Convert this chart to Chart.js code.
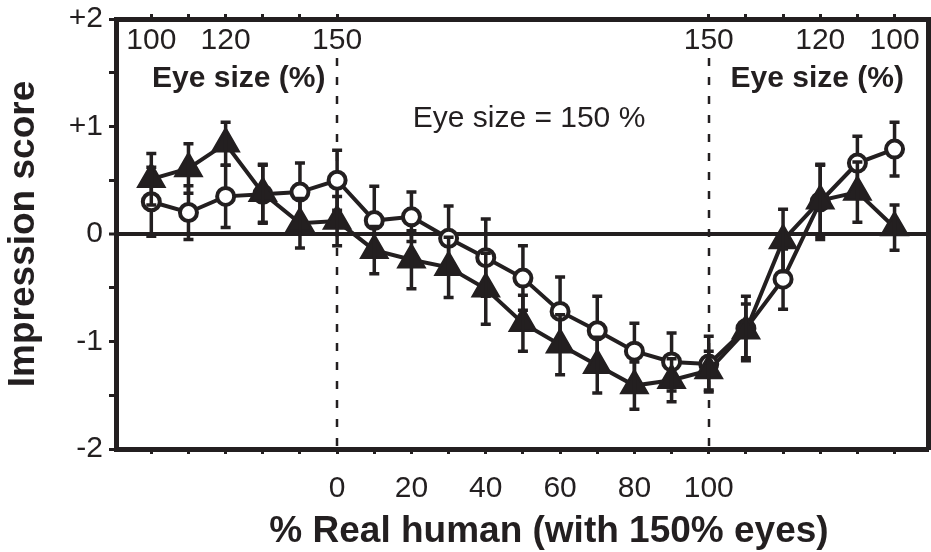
<!DOCTYPE html>
<html>
<head>
<meta charset="utf-8">
<script src="https://cdn.jsdelivr.net/npm/chart.js@4.4.0/dist/chart.umd.min.js"></script>
<style>
  html, body { margin: 0; padding: 0; background: #fff; }
  canvas { display: block; }
</style>
</head>
<body>
<canvas id="myChart" width="931" height="552"></canvas>
<script>
// % real human (bottom axis); negative side = eye size sweep on the doll face, >100 = eye size sweep on the real face
const realHuman = [-50, -40, -30, -20, -10, 0, 10, 20, 30, 40, 50, 60, 70, 80, 90, 100, 110, 120, 130, 140, 150];

// filled triangles
const triScore = [0.51, 0.61, 0.84, 0.38, 0.10, 0.12, -0.15, -0.24, -0.31, -0.51, -0.83, -1.03, -1.22, -1.41, -1.36, -1.27, -0.90, -0.06, 0.31, 0.39, 0.06];
const triErr   = [0.24, 0.23, 0.20, 0.27, 0.23, 0.23, 0.22, 0.27, 0.28, 0.33, 0.26, 0.28, 0.26, 0.22, 0.20, 0.18, 0.25, 0.29, 0.33, 0.28, 0.21];

// open circles
const circScore = [0.30, 0.20, 0.35, 0.37, 0.39, 0.50, 0.125, 0.16, -0.04, -0.22, -0.41, -0.72, -0.90, -1.09, -1.19, -1.21, -0.88, -0.42, 0.30, 0.66, 0.79];
const circErr   = [0.32, 0.25, 0.29, 0.27, 0.27, 0.28, 0.32, 0.23, 0.30, 0.36, 0.30, 0.32, 0.32, 0.26, 0.27, 0.26, 0.30, 0.28, 0.35, 0.25, 0.25];

// tick labels
const bottomTicks = [-50, -40, -30, -20, -10, 0, 10, 20, 30, 40, 50, 60, 70, 80, 90, 100, 110, 120, 130, 140, 150];
const bottomLabels = {0: '0', 20: '20', 40: '40', 60: '60', 80: '80', 100: '100'};
const topTicks  = [-50, -40, -30, -20, -10, 0, 100, 110, 120, 130, 140, 150];
const topLabels = ['100', '', '120', '', '', '150', '150', '', '', '120', '', '100'];
const yTicks = [-2, -1.5, -1, -0.5, 0, 0.5, 1, 1.5, 2];
const yLabels = {'2': '+2', '1': '+1', '0': '0', '-1': '-1', '-2': '-2'};
const splitLines = [0, 100];

const ink = '#231f20';
const fam = '"Liberation Sans", Arial, Helvetica, sans-serif';

// fixed box sizes so the plot frame sits where the original one is
function fixBox(w, h) {
    return function(scale) {
        if (w !== null) scale.width = w;
        if (h !== null) scale.height = h;
        scale.paddingLeft = 0;
        scale.paddingRight = 0;
        scale.paddingTop = 0;
        scale.paddingBottom = 0;
    };
}

function drawErr(chart, di, errs, vals) {
    const ctx = chart.ctx;
    const y = chart.scales.y;
    const meta = chart.getDatasetMeta(di);
    ctx.save();
    ctx.strokeStyle = ink;
    ctx.lineWidth = 3.5;
    meta.data.forEach(function(pt, i) {
        const top = y.getPixelForValue(vals[i] + errs[i]);
        const bot = y.getPixelForValue(vals[i] - errs[i]);
        ctx.beginPath();
        ctx.moveTo(pt.x, top);
        ctx.lineTo(pt.x, bot);
        ctx.moveTo(pt.x - 5, top);
        ctx.lineTo(pt.x + 5, top);
        ctx.moveTo(pt.x - 5, bot);
        ctx.lineTo(pt.x + 5, bot);
        ctx.stroke();
    });
    ctx.restore();
}

const extras = {
    id: 'extras',
    beforeDatasetsDraw(chart) {
        const ctx = chart.ctx;
        const x = chart.scales.x;
        const area = chart.chartArea;
        ctx.save();
        ctx.strokeStyle = ink;
        ctx.lineWidth = 2.5;
        ctx.setLineDash([8, 11]);
        splitLines.forEach(function(v) {
            const px = Math.round(x.getPixelForValue(v));
            ctx.beginPath();
            ctx.moveTo(px, area.top + 39);
            ctx.lineTo(px, area.bottom);
            ctx.stroke();
        });
        ctx.restore();
    },
    beforeDatasetDraw(chart, args) {
        if (args.index === 1) drawErr(chart, 1, circErr, circScore);
    },
    afterDatasetDraw(chart, args) {
        if (args.index === 0) drawErr(chart, 0, triErr, triScore);
    },
    afterDraw(chart) {
        const ctx = chart.ctx;
        const area = chart.chartArea;
        ctx.save();
        ctx.fillStyle = ink;
        ctx.textBaseline = 'alphabetic';
        ctx.font = 'bold 30px ' + fam;
        ctx.textAlign = 'left';
        ctx.fillText('Eye size (%)', 152, 87);
        ctx.textAlign = 'right';
        ctx.fillText('Eye size (%)', 904, 87);
        ctx.font = '30px ' + fam;
        ctx.textAlign = 'center';
        ctx.fillText('Eye size = 150 %', 529, 127);
        ctx.font = 'bold 37px ' + fam;
        ctx.fillText('% Real human (with 150% eyes)', (area.left + area.right) / 2 + 27, 542);
        ctx.restore();
    }
};

const ctx = document.getElementById('myChart').getContext('2d');
const myChart = new Chart(ctx, {
    type: 'line',
    data: {
        datasets: [{
            label: 'triangles',
            data: realHuman.map((v, i) => ({x: v, y: triScore[i]})),
            borderColor: ink,
            borderWidth: 4,
            pointStyle: 'triangle',
            pointRadius: 15,
            pointBackgroundColor: ink,
            pointBorderColor: ink,
            pointBorderWidth: 2.5,
            tension: 0
        },
        {
            label: 'circles',
            data: realHuman.map((v, i) => ({x: v, y: circScore[i]})),
            borderColor: ink,
            borderWidth: 4,
            pointStyle: 'circle',
            pointRadius: 8.5,
            pointBackgroundColor: '#fff',
            pointBorderColor: ink,
            pointBorderWidth: 4,
            tension: 0
        }]
    },
    options: {
        responsive: false,
        devicePixelRatio: 1,
        animation: false,
        layout: { padding: 0, autoPadding: false },
        plugins: {
            legend: { display: false },
            tooltip: { enabled: false }
        },
        scales: {
            x: {
                type: 'linear',
                position: 'bottom',
                min: -59.5,
                max: 159,
                afterBuildTicks: function(scale) {
                    scale.ticks = bottomTicks.map(v => ({value: v}));
                },
                afterFit: fixBox(null, 103),
                grid: { drawOnChartArea: false, tickLength: 5, tickWidth: 3, tickColor: ink, color: ink },
                border: { display: true, width: 5, color: ink },
                ticks: {
                    autoSkip: false,
                    maxRotation: 0,
                    padding: 17,
                    color: ink,
                    font: { family: fam, size: 30 },
                    callback: function(v) { return bottomLabels[v] || ''; }
                }
            },
            x2: {
                type: 'linear',
                position: 'top',
                min: -59.5,
                max: 159,
                afterBuildTicks: function(scale) {
                    scale.ticks = topTicks.map(v => ({value: v}));
                },
                afterFit: fixBox(null, 19),
                grid: { drawOnChartArea: false, tickLength: 5, tickWidth: 3, tickColor: ink, color: ink },
                border: { display: true, width: 5, color: ink },
                ticks: {
                    autoSkip: false,
                    maxRotation: 0,
                    mirror: true,
                    padding: 4,
                    color: ink,
                    font: { family: fam, size: 30 },
                    callback: function(v, i) { return topLabels[i]; }
                }
            },
            y: {
                type: 'linear',
                position: 'left',
                min: -2,
                max: 2,
                afterBuildTicks: function(scale) {
                    scale.ticks = yTicks.map(v => ({value: v}));
                },
                afterFit: fixBox(116, null),
                grid: {
                    drawOnChartArea: true,
                    tickLength: 7,
                    tickWidth: 3,
                    tickColor: ink,
                    color: c => (c.tick && c.tick.value === 0) ? ink : 'rgba(0,0,0,0)',
                    lineWidth: c => (c.tick && c.tick.value === 0) ? 4 : 1
                },
                border: { display: true, width: 5, color: ink },
                ticks: {
                    padding: 6,
                    color: ink,
                    font: { family: fam, size: 30 },
                    callback: function(v) { return yLabels[String(v)] || ''; }
                },
                title: {
                    display: true,
                    text: 'Impression score',
                    color: ink,
                    padding: { top: 2, bottom: 0 },
                    font: { family: fam, size: 37, weight: 'bold' }
                }
            },
            y2: {
                type: 'linear',
                position: 'right',
                min: -2,
                max: 2,
                afterFit: fixBox(3, null),
                grid: { display: false },
                border: { display: true, width: 5, color: ink },
                ticks: { display: false }
            }
        }
    },
    plugins: [extras]
});
</script>
</body>
</html>
